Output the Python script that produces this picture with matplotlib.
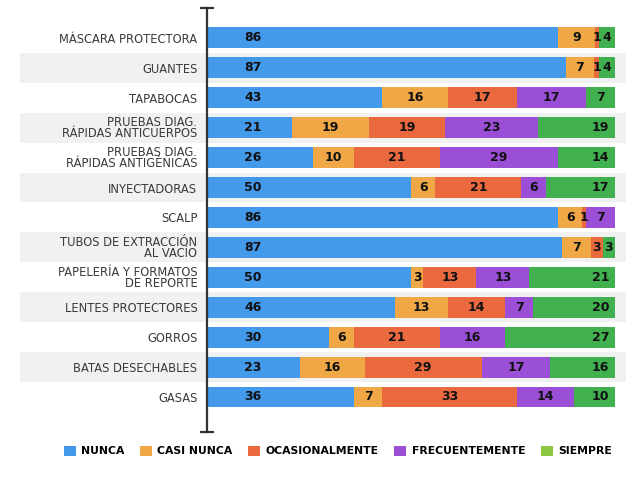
import matplotlib
matplotlib.use("Agg")
import matplotlib.pyplot as plt
from matplotlib.patches import Patch
import numpy as np

# --------------------------------------------------------------------------- #
# Data
# --------------------------------------------------------------------------- #
categories = [
    "MÁSCARA PROTECTORA",
    "GUANTES",
    "TAPABOCAS",
    "PRUEBAS DIAG.\nRÁPIDAS ANTICUERPOS",
    "PRUEBAS DIAG.\nRÁPIDAS ANTIGÉNICAS",
    "INYECTADORAS",
    "SCALP",
    "TUBOS DE EXTRACCIÓN\nAL VACÍO",
    "PAPELERÍA Y FORMATOS\nDE REPORTE",
    "LENTES PROTECTORES",
    "GORROS",
    "BATAS DESECHABLES",
    "GASAS",
]
nunca = [86, 87, 43, 21, 26, 50, 86, 87, 50, 46, 30, 23, 36]
casi_nunca = [9, 7, 16, 19, 10, 6, 6, 7, 3, 13, 6, 16, 7]
ocasionalmente = [1, 1, 17, 19, 21, 21, 1, 3, 13, 14, 21, 29, 33]
frecuentemente = [0, 0, 17, 23, 29, 6, 7, 0, 13, 7, 16, 17, 14]
siempre = [4, 4, 7, 19, 14, 17, 0, 3, 21, 20, 27, 16, 10]

series_names = ["NUNCA", "CASI NUNCA", "OCASIONALMENTE", "FRECUENTEMENTE", "SIEMPRE"]
bar_colors = ["#4399EA", "#F0A847", "#EA693F", "#9B4ED6", "#41B04F"]
legend_colors = ["#4399EA", "#F0A847", "#EA693F", "#9B4ED6", "#8DC63F"]

# --------------------------------------------------------------------------- #
# Figure
# --------------------------------------------------------------------------- #
W, H = 640, 479
fig = plt.figure(figsize=(W / 100, H / 100), dpi=100)
ax_l, ax_r, ax_t, ax_b = 207, 615, 8, 432
ax = fig.add_axes([ax_l / W, 1 - ax_b / H, (ax_r - ax_l) / W, (ax_b - ax_t) / H])

n = len(categories)
y = np.arange(n)
data = np.array([nunca, casi_nunca, ocasionalmente, frecuentemente, siempre], dtype=float)
totals = data.sum(axis=0)
widths = data / totals * 100

# alternating background bands
for i in range(1, n, 2):
    ax.axhspan(i - 0.5, i + 0.5, xmin=(20 - ax_l) / (ax_r - ax_l),
               xmax=(626 - ax_l) / (ax_r - ax_l), color="#F0F1F0",
               zorder=0, clip_on=False, lw=0)

left = np.zeros(n)
for k in range(5):
    ax.barh(y, widths[k], left=left, height=0.7, color=bar_colors[k], zorder=2,
            edgecolor="none")
    for i in range(n):
        v = data[k, i]
        if v <= 0:
            continue
        w = widths[k, i]
        if k == 0:
            xc = 11.3
        elif k == 4:
            xc = max(left[i] + w / 2, left[i] + w - 3.5)
        else:
            xc = left[i] + w / 2
        ax.text(xc, i, f"{int(v)}", ha="center", va="center", fontsize=9,
                fontweight="heavy", color="#111111", zorder=3)
    left += widths[k]

ax.set_xlim(0, 100)
ax.set_ylim(n - 1 + 35 / 29.9, -1.0)
ax.set_yticks(y)
ax.set_yticklabels(categories, fontsize=8.3, color="#3A3A3A", linespacing=0.8)
ax.tick_params(axis="y", length=0, pad=7)
ax.set_xticks([])
for s in ["top", "right", "bottom"]:
    ax.spines[s].set_visible(False)
ax.spines["left"].set_color("#333333")
ax.spines["left"].set_linewidth(1.6)
ax.spines["left"].set_zorder(4)
ax.patch.set_alpha(0)

# caps on the axis line
ylo, yhi = ax.get_ylim()
ax.plot([0, 0], [ylo, yhi], ls="none", marker="_", markersize=10,
        markeredgewidth=1.6, color="#333333", clip_on=False, zorder=5)

handles = [Patch(facecolor=c, label=l) for c, l in zip(legend_colors, series_names)]
fig.legend(handles=handles, loc="center", bbox_to_anchor=(0.528, 1 - 451 / H),
           ncol=5, frameon=False, handlelength=1.1, handleheight=1.1,
           handletextpad=0.5, columnspacing=1.45,
           prop={"weight": "bold", "size": 7.8})

fig.savefig("out.png", dpi=100)
